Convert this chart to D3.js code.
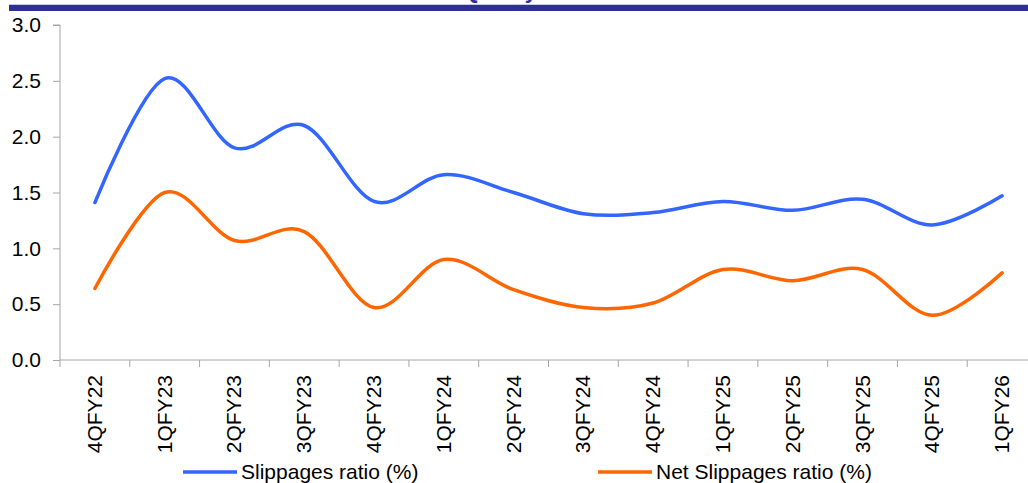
<!DOCTYPE html>
<html>
<head>
<meta charset="utf-8">
<script src="https://cdn.jsdelivr.net/npm/d3@7/dist/d3.min.js"></script>
<style>
  html, body { margin: 0; padding: 0; background: #fff; overflow: hidden; }
  svg { display: block; font-family: "Liberation Sans", Arial, sans-serif; }
</style>
</head>
<body>
<svg id="chart" width="1028" height="483"></svg>
<script>
// Quarterly slippage ratios (%)
const quarters = ["4QFY22","1QFY23","2QFY23","3QFY23","4QFY23","1QFY24","2QFY24","3QFY24","4QFY24","1QFY25","2QFY25","3QFY25","4QFY25","1QFY26"];
const slippages = [1.41, 2.52, 1.90, 2.10, 1.42, 1.66, 1.50, 1.31, 1.32, 1.42, 1.34, 1.44, 1.21, 1.47];
const netSlippages = [0.64, 1.50, 1.07, 1.15, 0.47, 0.90, 0.63, 0.47, 0.51, 0.81, 0.71, 0.81, 0.40, 0.78];
const yTicks = [0.0, 0.5, 1.0, 1.5, 2.0, 2.5, 3.0];
const seriesNames = ["Slippages ratio (%)", "Net Slippages ratio (%)"];

const svg = d3.select("#chart");
const axisColor = "#a6a6a6";
const fontSize = 21;

const plot = { left: 60, right: 1037, top: 25, bottom: 360 };

const x = d3.scaleBand().domain(quarters).range([plot.left, plot.right]).padding(0);
const y = d3.scaleLinear().domain([0, 3]).range([plot.bottom, plot.top]);

// Header band; the title sits above the top edge with only its descender showing
svg.append("text").attr("x", 537).attr("y", -2).attr("text-anchor", "end")
  .attr("font-weight", "bold").attr("font-size", 22).attr("fill", "#2e3192").text("Asset Quality");
svg.append("rect").attr("x", 9).attr("y", 4).attr("width", 1019).attr("height", 1.2).attr("fill", "#c9cbe3");
svg.append("rect").attr("x", 9).attr("y", 5).attr("width", 1019).attr("height", 6).attr("fill", "#2e3192");

// Y axis
const yAxis = svg.append("g").attr("transform", `translate(${plot.left},0)`)
  .call(d3.axisLeft(y).tickValues(yTicks).tickFormat(d3.format(".1f")).tickSize(7).tickPadding(12));
yAxis.select(".domain").attr("stroke", axisColor).attr("d", `M-7,${y(3)}H0V${y(0)}`);
yAxis.selectAll(".tick line").attr("stroke", axisColor);
yAxis.selectAll(".tick text").attr("font-size", fontSize).attr("fill", "#000")
  .attr("font-family", "Liberation Sans, Arial, sans-serif");

// X axis: ticks sit on category boundaries
const xAxisG = svg.append("g").attr("transform", `translate(0,${plot.bottom})`);
xAxisG.append("line").attr("x1", plot.left).attr("x2", plot.right).attr("y1", 0).attr("y2", 0).attr("stroke", axisColor);
xAxisG.selectAll("line.tk").data(quarters).enter().append("line").attr("class", "tk")
  .attr("x1", d => x(d)).attr("x2", d => x(d)).attr("y1", 0).attr("y2", 7).attr("stroke", axisColor);
xAxisG.selectAll("text").data(quarters).enter().append("text")
  .attr("transform", d => `translate(${x(d) + x.bandwidth() / 2 + 7},15) rotate(-90)`)
  .attr("text-anchor", "end").attr("font-size", fontSize).attr("fill", "#000").text(d => d);

// Smoothed lines
const line = d3.line()
  .x((d, i) => x(quarters[i]) + x.bandwidth() / 2)
  .y(d => y(d))
  .curve(d3.curveCatmullRom.alpha(0));

svg.append("path").datum(slippages).attr("d", line).attr("fill", "none")
  .attr("stroke", "#3366ff").attr("stroke-width", 3.5).attr("stroke-linecap", "round");
svg.append("path").datum(netSlippages).attr("d", line).attr("fill", "none")
  .attr("stroke", "#ff6600").attr("stroke-width", 3.5).attr("stroke-linecap", "round");

// Legend
const legend = [
  { name: seriesNames[0], color: "#3366ff", x: 183 },
  { name: seriesNames[1], color: "#ff6600", x: 598 }
];
legend.forEach(l => {
  svg.append("line").attr("x1", l.x).attr("x2", l.x + 54).attr("y1", 472).attr("y2", 472)
    .attr("stroke", l.color).attr("stroke-width", 3.5);
  svg.append("text").attr("x", l.x + 58).attr("y", 479).attr("font-size", fontSize)
    .attr("fill", "#000").text(l.name);
});
</script>
</body>
</html>
